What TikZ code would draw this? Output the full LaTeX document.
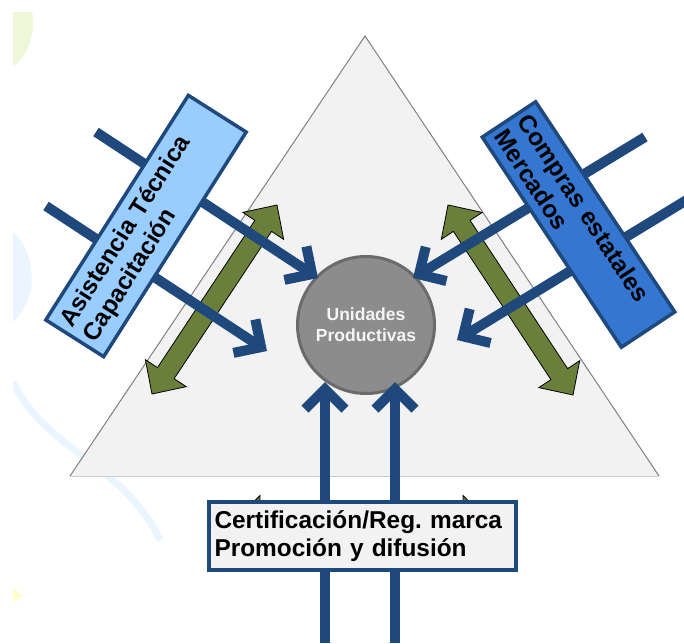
\documentclass[tikz,border=0pt]{standalone}
\usepackage{fontspec}
\setmainfont{Liberation Sans}
\usepackage{xcolor}
\usepackage{tikz}
\usetikzlibrary{arrows.meta,calc}
\frenchspacing

\definecolor{navy}{HTML}{1F497D}
\definecolor{lightblue}{HTML}{99CCFF}
\definecolor{midblue}{HTML}{3476D0}
\definecolor{grnfill}{HTML}{6A803A}
\definecolor{trifill}{HTML}{F2F2F2}
\definecolor{circfill}{HTML}{8C8C8C}
\definecolor{circline}{HTML}{6B6B6B}
\definecolor{bggreen}{HTML}{EEF8D8}
\definecolor{bgblue}{HTML}{EAF5FF}
\definecolor{bgyellow}{HTML}{FFFFCC}

\tikzset{
  bluearrow/.style={navy, line width=10pt, -{Straight Barb[length=20pt,width=40pt,sharp]}},
  greenarrow/.style={fill=grnfill, draw=black, line width=0.8pt, line join=miter},
  boxtext/.style={draw=navy, line width=3.5pt, align=left, inner ysep=0pt,
    font=\fontsize{24.4}{27.5}\selectfont\bfseries},
}

% double headed block arrow between two named points
\newcommand{\dblarrow}[2]{%
  \coordinate (ha) at ($(#1)!25pt!(#2)$);
  \coordinate (hb) at ($(#2)!25pt!(#1)$);
  \filldraw[greenarrow] (#1) -- ($(ha)!24.5pt!90:(#2)$) -- ($(ha)!10pt!90:(#2)$)
    -- ($(hb)!10pt!-90:(#1)$) -- ($(hb)!24.5pt!-90:(#1)$) -- (#2)
    -- ($(hb)!24.5pt!90:(#1)$) -- ($(hb)!10pt!90:(#1)$)
    -- ($(ha)!10pt!-90:(#2)$) -- ($(ha)!24.5pt!-90:(#2)$) -- cycle;}

\begin{document}
\begin{tikzpicture}[x=1pt,y=-1pt]
        \useasboundingbox (0,0) rectangle (684,643);

        % faint background of the slide
        \begin{scope}
            \clip (13,12) rectangle (200,643);
            \fill[bggreen] (0,22) ellipse (33 and 48);
            \fill[bgblue] (13,232) .. controls (38,255) and (38,300) .. (13,322) -- cycle;
            \draw[bgblue, line width=7pt] (13,382) .. controls (45,450) and (125,465) .. (160,540);
            \fill[bgyellow] (13,588) -- (22,595) -- (13,603) -- cycle;
        \end{scope}

        \fill[trifill] (70,476) -- (365,36) -- (659,476) -- cycle;
        \draw[gray, line width=1pt] (70,476) -- (365,36) -- (659,476);
        \draw[gray!40, line width=1pt] (70,476) -- (659,476);

        \coordinate (gl1) at (152,394);
        \coordinate (gl2) at (277,205);
        \coordinate (gr1) at (448,205);
        \coordinate (gr2) at (573,395);
        \coordinate (gb1) at (235,520);
        \coordinate (gb2) at (488,520);
        \dblarrow{gl1}{gl2}
        \dblarrow{gr1}{gr2}
        \dblarrow{gb1}{gb2}

        \node[circle, draw=circline, fill=circfill, line width=3pt, minimum size=137pt,
            inner sep=0pt, align=center, text=white!92!gray,
            font=\fontsize{17.5}{21}\selectfont\bfseries] (up) at (366,325) {Unidades\\Productivas};

        \coordinate (a1) at (96,132);
        \coordinate (a2) at (46,206);
        \coordinate (a3) at (645,137);
        \coordinate (a4) at (690,198);
        \coordinate (a5) at (325,643);
        \coordinate (a6) at (395,643);
        \coordinate (t1) at (318,278);
        \coordinate (t2) at (267,351);
        \coordinate (t3) at (413,278);
        \coordinate (t4) at (457,340);
        \coordinate (t5) at (325,382);
        \coordinate (t6) at (395,382);
        \draw[bluearrow] (a1) -- (t1);
        \draw[bluearrow] (a2) -- (t2);
        \draw[bluearrow] (a3) -- (t3);
        \draw[bluearrow] (a4) -- (t4);
        \draw[bluearrow] (a5) -- (t5);
        \draw[bluearrow] (a6) -- (t6);

        \node[boxtext, fill=lightblue, rotate=57.6, minimum width=266pt, minimum height=68.5pt,
            text width=252pt, inner xsep=7pt] (asist) at (146,226) {Asistencia Técnica\\Capacitación};
        \node[boxtext, fill=midblue, rotate=-56.5, minimum width=252pt, minimum height=64pt,
            text width=240pt, inner xsep=6pt] (compras) at (578.5,224.5) {Compras estatales\\Mercados};
        \node[boxtext, fill=trifill, minimum width=307pt, minimum height=68pt,
            text width=296pt, inner xsep=5.5pt] (cert) at (362.5,536) {Certificación/Reg. marca\\Promoción y difusión};
    \end{tikzpicture}
\end{document}
